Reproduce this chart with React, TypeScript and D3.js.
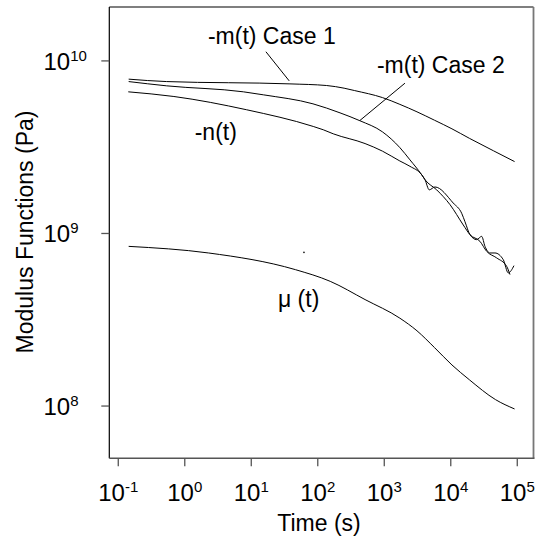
import React from "react";
import * as d3 from "d3";

// time (s) / modulus (Pa)
const timeCase1 = [0.1433, 0.534, 38.2, 136, 249, 359, 939, 1716, 3103, 5707, 10420, 19050, 44180, 91080];
const modCase1 = [7.84e9, 7.59e9, 7.36e9, 7.2e9, 6.95e9, 6.73e9, 6.13e9, 5.6e9, 5.07e9, 4.53e9, 4.04e9, 3.56e9, 3.01e9, 2.61e9];

const timeCase2 = [0.1433, 0.534, 7.61, 15.2, 84.7, 216, 431, 939, 1722, 2435, 3650, 4093, 6138, 9727, 15420, 19450, 27490, 34660, 49000, 69270, 77680];
const modCase2 = [7.59e9, 7.17e9, 6.62e9, 6.36e9, 5.64e9, 5.0e9, 4.5e9, 3.88e9, 3.14e9, 2.67e9, 2.19e9, 2.05e9, 1.79e9, 1.47e9, 1.12e9, 9.84e8, 9.0e8, 7.88e8, 7.22e8, 6.45e8, 5.78e8];

const timeN = [0.1414, 0.686, 8.53, 85.6, 121, 171, 514, 939, 1716, 2435, 3650, 4093, 4750, 5787, 10900, 14580, 16350, 19450, 24520, 29150, 32690, 38860, 46210, 61600, 73230, 89220];
const modN = [6.62e9, 6.22e9, 5.21e9, 4.17e9, 3.99e9, 3.78e9, 3.32e9, 3.0e9, 2.63e9, 2.45e9, 2.19e9, 2.05e9, 1.79e9, 1.86e9, 1.5e9, 1.31e9, 1.17e9, 9.84e8, 9.21e8, 9.62e8, 8.42e8, 7.71e8, 7.71e8, 7.05e8, 5.91e8, 6.51e8];

const timeMu = [0.1433, 2.28, 46.2, 154, 514, 1716, 3103, 5707, 10420, 19050, 47000, 91080];
const modMu = [8.42e8, 7.71e8, 6.17e8, 5.28e8, 4.14e8, 3.23e8, 2.73e8, 2.18e8, 1.73e8, 1.42e8, 1.09e8, 9.62e7];

// stray dot seen in the figure
const strayT = [62.0];
const strayV = [7.77e8];

const xTickExps = [-1, 0, 1, 2, 3, 4, 5];
const yTickExps = [8, 9, 10];

// annotation text anchors and leader lines, in data units
const labels = [
  { text: "-m(t) Case 1", t: 2.23, v: 1.245e10 },
  { text: "-m(t) Case 2", t: 776, v: 8.55e9 },
  { text: "-n(t)", t: 1.41, v: 3.5e9 },
  { text: "\u03bc (t)", t: 25.2, v: 3.74e8 },
];
const leaders = [
  { t1: 16.6, v1: 1.13e10, t2: 37.2, v2: 7.66e9 },
  { t1: 2047, v1: 7.43e9, t2: 431, v2: 4.52e9 },
];

const W = 545;
const H = 542;
const left = 109.3, right = 533.5, top = 7, bottom = 458.3;
const font = "'Liberation Sans', Arial, sans-serif";

export default function App() {
  const x = d3.scaleLog().domain([0.0733, 175400]).range([left, right]);
  const y = d3.scaleLog().domain([4.98e7, 2.053e10]).range([bottom, top]);

  const line = d3
    .line<[number, number]>()
    .x((d) => x(d[0]))
    .y((d) => y(d[1]))
    .curve(d3.curveMonotoneX);

  const series = [
    d3.zip(timeCase1, modCase1),
    d3.zip(timeCase2, modCase2),
    d3.zip(timeN, modN),
    d3.zip(timeMu, modMu),
  ] as [number, number][][];

  return (
    <svg
      width={W}
      height={H}
      style={{ position: "absolute", left: 0, top: 0, background: "#fff" }}
      fontFamily={font}
    >
      {/* frame */}
      <line x1={left} x2={right} y1={top} y2={top} stroke="#000" strokeWidth={1.2} />
      <line x1={left} x2={left} y1={top} y2={bottom} stroke="#000" strokeWidth={1.2} />
      <line x1={right} x2={right} y1={top} y2={bottom} stroke="#777" strokeWidth={1.8} />
      <line x1={left} x2={right + 1} y1={bottom} y2={bottom} stroke="#555" strokeWidth={1.6} />

      {/* x ticks */}
      {xTickExps.map((e) => {
        const px = x(Math.pow(10, e));
        return (
          <g key={"x" + e}>
            <line x1={px} x2={px} y1={bottom} y2={bottom + 8} stroke="#555" strokeWidth={1.3} />
            <text x={px} y={500.5} textAnchor="middle" fontSize={24} fill="#000">
              10
              <tspan dy={-9} fontSize={15}>
                {e}
              </tspan>
            </text>
          </g>
        );
      })}

      {/* y ticks */}
      {yTickExps.map((e) => {
        const py = y(Math.pow(10, e));
        return (
          <g key={"y" + e}>
            <line x1={left - 8} x2={left} y1={py} y2={py} stroke="#555" strokeWidth={1.3} />
            <text x={43.5} y={py + 9} fontSize={24} fill="#000">
              10
              <tspan dy={-9} fontSize={15}>
                {e}
              </tspan>
            </text>
          </g>
        );
      })}

      {/* curves */}
      {series.map((s, i) => (
        <path key={i} d={line(s) || ""} fill="none" stroke="#000" strokeWidth={1} />
      ))}
      {strayT.map((t, i) => (
        <circle key={"s" + i} cx={x(t)} cy={y(strayV[i])} r={0.8} fill="#000" />
      ))}

      {/* annotations */}
      {leaders.map((l, i) => (
        <line
          key={"l" + i}
          x1={x(l.t1)}
          y1={y(l.v1)}
          x2={x(l.t2)}
          y2={y(l.v2)}
          stroke="#000"
          strokeWidth={1}
        />
      ))}
      {labels.map((l) => (
        <text key={l.text} x={x(l.t)} y={y(l.v)} fontSize={23} fill="#000">
          {l.text}
        </text>
      ))}

      {/* axis titles */}
      <text x={319} y={531} textAnchor="middle" fontSize={23} fill="#000">
        Time (s)
      </text>
      <text
        transform={`translate(33,${232}) rotate(-90)`}
        textAnchor="middle"
        fontSize={23}
        fill="#000"
      >
        Modulus Functions (Pa)
      </text>
    </svg>
  );
}
